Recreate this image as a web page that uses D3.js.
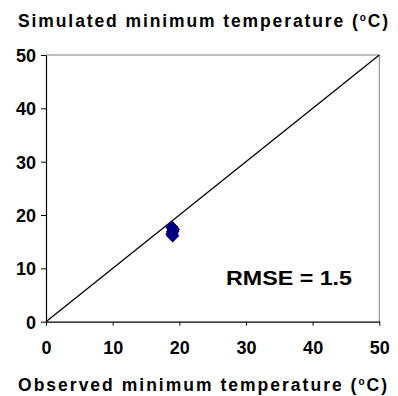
<!DOCTYPE html>
<html>
<head>
<meta charset="utf-8">
<script src="https://cdn.jsdelivr.net/npm/d3@7"></script>
<style>
  html, body { margin: 0; padding: 0; background: #fff; }
  text { font-family: "Liberation Sans", Arial, sans-serif; font-weight: bold; fill: #000; }
</style>
</head>
<body>
<svg id="chart" width="398" height="396"></svg>
<script>
// Observed vs simulated minimum temperature (°C)
const observed  = [18.9, 19.1, 19.0, 18.9, 19.0];
const simulated = [17.7, 17.3, 16.9, 16.5, 16.1];
const xTicks = [0, 10, 20, 30, 40, 50];
const yTicks = [0, 10, 20, 30, 40, 50];
const rmseLabel = "RMSE = 1.5";
const xTitle = "Observed minimum temperature (";
const yTitle = "Simulated minimum temperature (";

const svg = d3.select("#chart");
const plotLeft = 46, plotRight = 379.3, plotTop = 55, plotBottom = 321.7;

const x = d3.scaleLinear().domain([0, 50]).range([plotLeft, plotRight]);
const y = d3.scaleLinear().domain([0, 50]).range([plotBottom, plotTop]);

// frame: grey top and right borders
svg.append("line").attr("x1", plotLeft).attr("x2", plotRight).attr("y1", plotTop).attr("y2", plotTop)
  .attr("stroke", "#808080").attr("stroke-width", 1);
svg.append("line").attr("x1", plotRight).attr("x2", plotRight).attr("y1", plotTop).attr("y2", plotBottom)
  .attr("stroke", "#808080").attr("stroke-width", 1);

// axes
const xAxis = d3.axisBottom(x).tickValues(xTicks).tickSize(4).tickPadding(16).tickSizeOuter(0);
const yAxis = d3.axisLeft(y).tickValues(yTicks).tickSize(5).tickPadding(5).tickSizeOuter(0);

const gx = svg.append("g").attr("transform", `translate(0,${plotBottom})`).call(xAxis);
const gy = svg.append("g").attr("transform", `translate(${plotLeft},0)`).call(yAxis);
[gx, gy].forEach(g => {
  g.selectAll("path.domain").attr("stroke", "#000").attr("stroke-width", 1.2);
  g.selectAll(".tick line").attr("stroke", "#000");
  g.selectAll(".tick text")
    .style("font-family", "'Liberation Sans', Arial, sans-serif")
    .style("font-weight", "bold").style("font-size", "18px").attr("fill", "#000");
});
gy.selectAll(".tick text").attr("dy", "0.36em");

// 1:1 line
svg.append("line")
  .attr("x1", x(0)).attr("y1", y(0)).attr("x2", x(50)).attr("y2", y(50))
  .attr("stroke", "#000").attr("stroke-width", 1.3);

// data points as diamonds
const pts = observed.map((o, i) => ({o, s: simulated[i]}));
svg.append("g").selectAll("path").data(pts).enter().append("path")
  .attr("d", d3.symbol().type(d3.symbolSquare).size(64))
  .attr("transform", d => `translate(${x(d.o)},${y(d.s)}) rotate(45)`)
  .attr("fill", "#000080").attr("stroke", "#000080").attr("stroke-width", 1.5);

// RMSE annotation
svg.append("text").attr("x", 226).attr("y", 285)
  .attr("textLength", 126).attr("lengthAdjust", "spacingAndGlyphs")
  .style("font-size", "21px").text(rmseLabel);

// axis titles with superscript degree
function title(txt, yPos, len) {
  const t = svg.append("text").attr("x", 18).attr("y", yPos).style("font-size", "17.5px")
    .attr("textLength", len).attr("lengthAdjust", "spacing");
  t.append("tspan").text(txt);
  t.append("tspan").attr("dy", -6).style("font-size", "10px").text("o");
  t.append("tspan").attr("dy", 6).text("C)");
}
title(yTitle, 27, 370);
title(xTitle, 391, 369);
</script>
</body>
</html>
